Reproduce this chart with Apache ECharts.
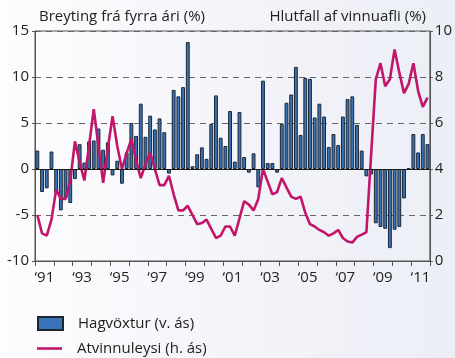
<!DOCTYPE html>
<html>
<head>
<meta charset="utf-8">
<script src="https://cdn.jsdelivr.net/npm/echarts@6/dist/echarts.min.js"></script>
<style>
  html, body { margin: 0; padding: 0; }
  body {
    width: 455px; height: 358px; overflow: hidden;
    background: linear-gradient(to right, #fdfdfe 0%, #f3f4f9 55%, #eceef6 100%);
  }
  #chart { width: 455px; height: 358px; }
</style>
</head>
<body>
<div id="chart"></div>
<script>
// Years on the time axis (two-digit labels) and the quarters built from them
const years = ['91','92','93','94','95','96','97','98','99','00','01','02','03','04','05','06','07','08','09','10','11'];
const quarters = [];
years.forEach(function (y) { for (let q = 1; q <= 4; q++) quarters.push("'" + y + ' Q' + q); });
const yearLabels = years.map(function (y) { return '\u2018' + y; });

// Hagvöxtur, change from previous year (%), one value per quarter
const hagvoxtur = [
  2.0, -2.5, -2.1, 1.9,
  -2.6, -4.5, -3.2, -3.7,
  -1.1, 2.7, 0.7, 3.0,
  3.1, 4.4, 2.1, 2.9,
  -0.7, 0.9, -1.6, 1.8,
  5.0, 3.6, 7.1, 3.5,
  5.8, 4.3, 5.5, 4.0,
  -0.5, 8.6, 7.9, 8.9,
  13.8, 0.3, 1.6, 2.35,
  1.1, 4.9, 8.0, 3.4,
  2.5, 6.3, 0.8, 6.2,
  1.3, -0.4, 1.7, -2.0,
  9.6, 0.65, 0.65, -0.4,
  4.9, 7.2, 8.1, 11.1,
  3.7, 9.9, 9.8, 5.6,
  7.1, 5.7, 2.4, 3.8,
  2.6, 5.7, 7.6, 7.9,
  4.8, 2.0, -0.8, -0.6,
  -5.9, -6.3, -6.5, -8.6,
  -6.6, -6.3, -3.2, 0.05,
  3.8, 1.8, 3.8, 2.7
];

// Atvinnuleysi, share of the labour force (%), one value per quarter
const atvinnuleysi = [
  2.0, 1.2, 1.1, 1.8,
  3.1, 2.7, 2.7, 3.5,
  5.2, 4.3, 3.5, 5.0,
  6.6, 5.0, 3.4, 4.9,
  6.3, 5.0, 4.0, 4.7,
  5.3, 4.4, 3.6, 4.2,
  4.7, 4.0, 3.3, 3.3,
  3.7, 2.9, 2.2, 2.2,
  2.4, 2.0, 1.6, 1.65,
  1.8, 1.4, 1.0, 1.1,
  1.5, 1.5, 1.1, 1.85,
  2.6, 2.45, 2.2, 2.7,
  4.0, 3.45, 2.9, 3.0,
  3.6, 3.2, 2.8, 2.7,
  2.8, 2.1, 1.6, 1.5,
  1.35, 1.25, 1.1, 1.2,
  1.35, 1.0, 0.85, 0.8,
  1.05, 1.15, 1.25, 4.6,
  7.9, 8.6, 7.6, 7.9,
  9.2, 8.2, 7.3, 7.7,
  8.6, 7.4, 6.7, 7.1
];

// Axis ticks
const leftTicks = { min: -10, max: 15, step: 5 };
const rightTicks = { min: 0, max: 10, step: 2 };

const FONT = '"Open Sans", "Noto Sans", sans-serif';
const TEXT = '#222222';
const FRAME = '#555555';
const BAR_BLUE = '#3873b8';
const LINE_RED = '#c2166b';

const chart = echarts.init(document.getElementById('chart'), null, { renderer: 'canvas' });

const legendText = { fontFamily: FONT, fontSize: 15, color: TEXT, padding: [0, 0, 0, 10] };

chart.setOption({
  backgroundColor: 'transparent',
  animation: false,
  textStyle: { fontFamily: FONT, color: TEXT },
  title: [
    { text: 'Breyting frá fyrra ári (%)', left: 34, top: 4,
      textStyle: { fontFamily: FONT, fontSize: 15, fontWeight: 'normal', color: TEXT } },
    { text: 'Hlutfall af vinnuafli (%)', right: 24, top: 4,
      textStyle: { fontFamily: FONT, fontSize: 15, fontWeight: 'normal', color: TEXT } }
  ],
  grid: {
    left: 35, right: 23, top: 31, bottom: 97,
    show: true, borderColor: FRAME, borderWidth: 1, backgroundColor: 'transparent'
  },
  legend: [
    {
      left: 37, top: 316, padding: 0,
      itemWidth: 25, itemHeight: 13,
      textStyle: legendText,
      data: [{ name: 'Hagvöxtur (v. ás)', icon: 'rect' }]
    },
    {
      left: 37, top: 341, padding: 0,
      itemWidth: 25, itemHeight: 2.6,
      textStyle: legendText,
      data: [{ name: 'Atvinnuleysi (h. ás)', icon: 'rect', itemStyle: { color: LINE_RED, borderWidth: 0 } }]
    }
  ],
  xAxis: [
    {
      type: 'category', data: quarters, gridIndex: 0, position: 'bottom',
      show: false, boundaryGap: true
    },
    {
      type: 'category', data: yearLabels, gridIndex: 0, position: 'bottom',
      boundaryGap: true,
      axisLine: { show: true, lineStyle: { color: FRAME, width: 1 } },
      axisTick: { show: true, interval: 0, length: 5, inside: false, lineStyle: { color: FRAME } },
      axisLabel: { interval: 1, margin: 9, fontSize: 15, fontFamily: FONT, color: TEXT },
      splitLine: { show: false }
    }
  ],
  yAxis: [
    {
      type: 'value', min: leftTicks.min, max: leftTicks.max, interval: leftTicks.step,
      position: 'left',
      axisLine: { show: true, lineStyle: { color: FRAME } },
      axisTick: { show: true, length: 3, inside: false, lineStyle: { color: FRAME } },
      axisLabel: { margin: 6, fontSize: 15, fontFamily: FONT, color: TEXT },
      splitLine: { show: true, lineStyle: { color: '#666666', width: 1.2, type: [6, 5] } }
    },
    {
      type: 'value', min: rightTicks.min, max: rightTicks.max, interval: rightTicks.step,
      position: 'right',
      axisLine: { show: true, lineStyle: { color: FRAME } },
      axisTick: { show: true, length: 3, inside: false, lineStyle: { color: FRAME } },
      axisLabel: { margin: 5, fontSize: 15, fontFamily: FONT, color: TEXT },
      splitLine: { show: false }
    }
  ],
  series: [
    {
      name: 'Hagvöxtur (v. ás)', type: 'bar',
      xAxisIndex: 0, yAxisIndex: 0,
      data: hagvoxtur,
      barWidth: '82%',
      itemStyle: { color: BAR_BLUE, borderColor: '#1c2633', borderWidth: 1 },
      markLine: {
        silent: true, symbol: 'none', label: { show: false },
        lineStyle: { color: '#1a1a1a', width: 1.2, type: 'solid' },
        data: [{ yAxis: 0 }]
      },
      z: 2
    },
    {
      name: 'Atvinnuleysi (h. ás)', type: 'line',
      xAxisIndex: 0, yAxisIndex: 1,
      data: atvinnuleysi,
      symbol: 'none', showSymbol: false,
      lineStyle: { color: LINE_RED, width: 2.6 },
      itemStyle: { color: LINE_RED },
      z: 4
    }
  ]
});
</script>
</body>
</html>
